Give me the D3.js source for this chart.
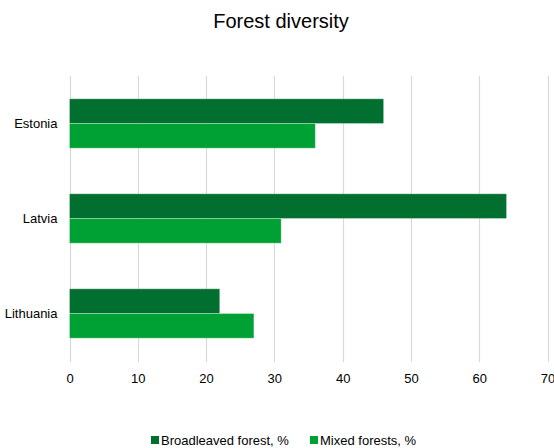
<!DOCTYPE html>
<html>
<head>
<meta charset="utf-8">
<script src="https://cdn.jsdelivr.net/npm/d3@7"></script>
<style>
  html, body { margin: 0; padding: 0; background: #fff; }
  svg { display: block; font-family: "Liberation Sans", Arial, sans-serif; }
</style>
</head>
<body>
<svg id="chart" width="554" height="448"></svg>
<script>
// Forest types by Baltic country, share of forest area (%)
const countries = ["Estonia", "Latvia", "Lithuania"];
const seriesNames = ["Broadleaved forest, %", "Mixed forests, %"];
const broadleaved = [46, 64, 22];
const mixed = [36, 31, 27];
const tickValues = [0, 10, 20, 30, 40, 50, 60, 70];
const colors = ["#006f30", "#00a134"];

const values = [broadleaved, mixed];
const rows = countries.map((c, i) => ({
  country: c,
  items: seriesNames.map((s, k) => ({ series: s, k, value: values[k][i] }))
}));

const svg = d3.select("#chart");
const W = 554, H = 448;
const plot = { left: 69.5, right: 547.5, top: 76, bottom: 361 };

const x = d3.scaleLinear().domain([0, 70]).range([plot.left, plot.right]);
const y = d3.scaleBand().domain(countries).range([plot.top, plot.bottom])
  .paddingInner(0.48).paddingOuter(0.24);
const ySub = d3.scaleBand().domain(seriesNames).range([0, y.bandwidth()]);

// Title
svg.append("text")
  .attr("x", 281).attr("y", 28)
  .attr("text-anchor", "middle")
  .attr("font-size", 20)
  .attr("fill", "#000")
  .text("Forest diversity");

// Vertical gridlines
svg.append("g")
  .selectAll("line")
  .data(tickValues)
  .join("line")
  .attr("x1", d => Math.round(x(d)) + 0.5)
  .attr("x2", d => Math.round(x(d)) + 0.5)
  .attr("y1", plot.top)
  .attr("y2", plot.bottom + 1)
  .attr("stroke", "#d9d9d9")
  .attr("stroke-width", 1.2);

// Bars
const groups = svg.append("g")
  .selectAll("g")
  .data(rows)
  .join("g")
  .attr("transform", d => `translate(0,${y(d.country)})`);

groups.selectAll("rect")
  .data(d => d.items)
  .join("rect")
  .attr("x", x(0))
  .attr("y", d => ySub(d.series))
  .attr("width", d => x(d.value) - x(0))
  .attr("height", ySub.bandwidth())
  .attr("fill", d => colors[d.k])
  .attr("stroke", "rgba(255,255,255,0.3)")
  .attr("stroke-width", 1);

// Category labels
const yAxis = d3.axisLeft(y).tickSize(0).tickPadding(12);
const yG = svg.append("g")
  .attr("transform", `translate(${plot.left},0)`)
  .call(yAxis);
yG.select(".domain").remove();
yG.selectAll("text")
  .attr("font-size", 13)
  .attr("font-family", "Liberation Sans, Arial, sans-serif")
  .attr("fill", "#000");

// Value axis labels
const xAxis = d3.axisBottom(x).tickValues(tickValues).tickSize(0).tickPadding(13);
const xG = svg.append("g")
  .attr("transform", `translate(0,${plot.bottom})`)
  .call(xAxis);
xG.select(".domain").remove();
xG.selectAll("text")
  .attr("font-size", 13)
  .attr("font-family", "Liberation Sans, Arial, sans-serif")
  .attr("fill", "#000");

// Legend
const legendX = [151, 310];
const legend = svg.append("g")
  .selectAll("g")
  .data(seriesNames)
  .join("g")
  .attr("transform", (d, i) => `translate(${legendX[i]},0)`);
legend.append("rect")
  .attr("x", 0).attr("y", 436)
  .attr("width", 8).attr("height", 8)
  .attr("fill", (d, i) => colors[i]);
legend.append("text")
  .attr("x", 10).attr("y", 444.5)
  .attr("font-size", 13)
  .attr("fill", "#000")
  .text(d => d);
</script>
</body>
</html>
